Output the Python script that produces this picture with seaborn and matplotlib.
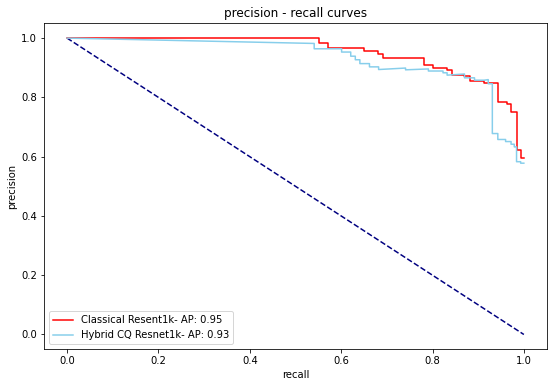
import matplotlib
matplotlib.use("Agg")
import matplotlib.pyplot as plt
import seaborn as sns

# ---------------------------------- DATOS ----------------------------------

# Curva del modelo clasico
recall_clasico = [0.0, 0.551, 0.551, 0.571, 0.571, 0.651, 0.651, 0.681, 0.681,
                  0.692, 0.692, 0.782, 0.782, 0.802, 0.802, 0.832, 0.832, 0.842,
                  0.842, 0.870, 0.870, 0.882, 0.882, 0.913, 0.913, 0.943, 0.943,
                  0.964, 0.964, 0.972, 0.972, 0.984, 0.984, 0.993, 0.993, 1.0]
precision_clasico = [1.0, 1.0, 0.982, 0.982, 0.966, 0.966, 0.957, 0.957, 0.946,
                     0.946, 0.932, 0.932, 0.908, 0.908, 0.900, 0.900, 0.893, 0.893,
                     0.877, 0.877, 0.872, 0.872, 0.855, 0.855, 0.847, 0.847, 0.784,
                     0.784, 0.779, 0.779, 0.752, 0.752, 0.624, 0.624, 0.594, 0.594]

# Curva del modelo hibrido
recall_hibrido = [0.0, 0.541, 0.541, 0.601, 0.601, 0.621, 0.621, 0.631, 0.631,
                  0.641, 0.641, 0.662, 0.662, 0.682, 0.682, 0.741, 0.741, 0.791,
                  0.791, 0.823, 0.823, 0.832, 0.832, 0.870, 0.870, 0.892, 0.892,
                  0.913, 0.922, 0.922, 0.931, 0.931, 0.943, 0.943, 0.960, 0.960,
                  0.972, 0.972, 0.979, 0.979, 0.984, 0.984, 0.993, 0.993, 1.0]
precision_hibrido = [1.0, 0.982, 0.964, 0.964, 0.953, 0.953, 0.939, 0.939, 0.927,
                     0.927, 0.914, 0.914, 0.903, 0.903, 0.894, 0.899, 0.893, 0.896,
                     0.889, 0.889, 0.883, 0.883, 0.875, 0.879, 0.866, 0.866, 0.858,
                     0.858, 0.860, 0.846, 0.846, 0.678, 0.678, 0.658, 0.658, 0.651,
                     0.651, 0.642, 0.642, 0.633, 0.633, 0.583, 0.583, 0.578, 0.578]

# Linea de referencia (clasificador aleatorio)
recall_ref = [0.0, 1.0]
precision_ref = [1.0, 0.0]

etiqueta_clasico = "Classical Resent1k- AP: 0.95"
etiqueta_hibrido = "Hybrid CQ Resnet1k- AP: 0.93"

# ---------------------------------- GRAFICA ----------------------------------

fig = plt.figure(figsize=(553 / 72, 387 / 72), dpi=72)
ax = fig.add_axes([0.080, 0.0974, 0.9086, 0.8424])

sns.lineplot(x=recall_ref, y=precision_ref, sort=False, estimator=None,
             color="navy", linestyle="--", linewidth=1.5, ax=ax)
sns.lineplot(x=recall_clasico, y=precision_clasico, sort=False, estimator=None,
             color="red", linewidth=1.5, label=etiqueta_clasico, ax=ax)
sns.lineplot(x=recall_hibrido, y=precision_hibrido, sort=False, estimator=None,
             color="skyblue", linewidth=1.5, label=etiqueta_hibrido, ax=ax)

# Titulos y etiquetas
ax.set_title("precision - recall curves", fontsize=12)
ax.set_xlabel("recall", fontsize=10)
ax.set_ylabel("precision", fontsize=10)
ax.legend(loc="lower left", fontsize=10)

fig.savefig("out.png", dpi=72)
